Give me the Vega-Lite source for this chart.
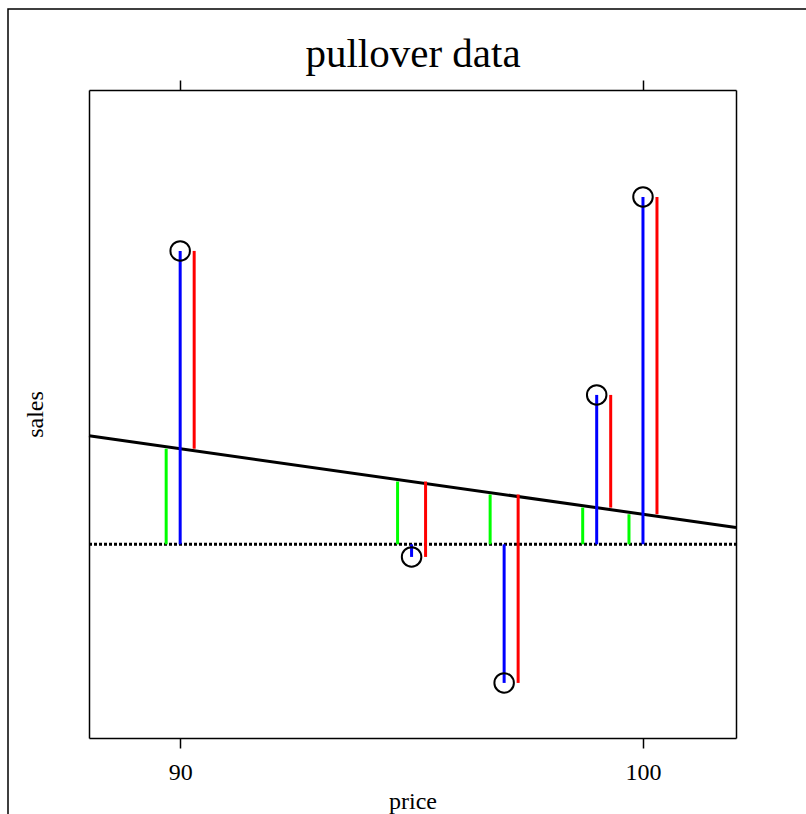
{
  "$schema": "https://vega.github.io/schema/vega-lite/v6.json",
  "autosize": "none",
  "padding": {"left": 8, "top": 9, "right": 0, "bottom": 0},
  "width": 800,
  "height": 810,
  "background": "white",
  "datasets": {
    "points": [
      {"price": 90, "sales": 189, "fitted": 178.01, "mean": 172.7},
      {"price": 95, "sales": 172, "fitted": 176.19, "mean": 172.7},
      {"price": 97, "sales": 165, "fitted": 175.47, "mean": 172.7},
      {"price": 99, "sales": 181, "fitted": 174.74, "mean": 172.7},
      {"price": 100, "sales": 192, "fitted": 174.37, "mean": 172.7}
    ],
    "ends": [
      {"price": 88.03, "fitted": 178.73, "mean": 172.7},
      {"price": 102.01, "fitted": 173.64, "mean": 172.7}
    ]
  },
  "layer": [
    {
      "data": {"name": "ends"},
      "mark": {"type": "line", "color": "black", "strokeWidth": 3},
      "encoding": {
        "x": {"field": "price", "type": "quantitative",
              "scale": {"domain": [88.03, 102.01], "range": [81, 728], "nice": false, "zero": false},
              "axis": {"orient": "bottom", "offset": -81, "values": [90, 100], "tickSize": 10, "labelPadding": 12, "title": "price", "titlePadding": 5}},
        "y": {"field": "fitted", "type": "quantitative",
              "scale": {"domain": [161.94, 197.94], "range": [729, 81], "nice": false, "zero": false},
              "axis": {"orient": "left", "offset": -81, "ticks": false, "labels": false, "title": "sales", "titleBaseline": "alphabetic", "titlePadding": 47}}
      }
    },
    {
      "data": {"name": "ends"},
      "mark": {"type": "line", "color": "black", "strokeWidth": 3, "strokeDash": [3, 2]},
      "encoding": {
        "x": {"field": "price", "type": "quantitative",
              "axis": {"orient": "top", "offset": -81, "values": [90, 100], "tickSize": 10, "labels": false, "title": "pullover data", "titleFontSize": 41, "titleBaseline": "alphabetic", "titlePadding": 13}},
        "y": {"field": "mean", "type": "quantitative",
              "axis": {"orient": "right", "offset": -72, "ticks": false, "labels": false, "title": null}}
      }
    },
    {
      "data": {"name": "points"},
      "mark": {"type": "rule", "color": "#0000ff", "strokeWidth": 3},
      "encoding": {
        "x": {"field": "price", "type": "quantitative", "axis": null},
        "y": {"field": "mean", "type": "quantitative", "axis": null},
        "y2": {"field": "sales"}
      }
    },
    {
      "data": {"name": "points"},
      "mark": {"type": "rule", "color": "#00ff00", "strokeWidth": 3, "xOffset": -14},
      "encoding": {
        "x": {"field": "price", "type": "quantitative", "axis": null},
        "y": {"field": "mean", "type": "quantitative", "axis": null},
        "y2": {"field": "fitted"}
      }
    },
    {
      "data": {"name": "points"},
      "mark": {"type": "rule", "color": "#ff0000", "strokeWidth": 3, "xOffset": 14},
      "encoding": {
        "x": {"field": "price", "type": "quantitative", "axis": null},
        "y": {"field": "fitted", "type": "quantitative", "axis": null},
        "y2": {"field": "sales"}
      }
    },
    {
      "data": {"name": "points"},
      "mark": {"type": "point", "shape": "circle", "filled": false, "stroke": "black", "strokeWidth": 2, "size": 380, "opacity": 1},
      "encoding": {
        "x": {"field": "price", "type": "quantitative", "axis": null},
        "y": {"field": "sales", "type": "quantitative", "axis": null}
      }
    }
  ],
  "resolve": {"axis": {"x": "independent", "y": "independent"}},
  "config": {
    "view": {"stroke": "black", "strokeWidth": 1.5},
    "axis": {
      "grid": false,
      "domainColor": "black",
      "domainWidth": 1.5,
      "tickColor": "black",
      "tickWidth": 1.5,
      "labelFont": "Liberation Serif",
      "labelFontSize": 24,
      "labelColor": "black",
      "titleFont": "Liberation Serif",
      "titleFontSize": 24,
      "titleFontWeight": "normal",
      "titleColor": "black"
    }
  }
}
